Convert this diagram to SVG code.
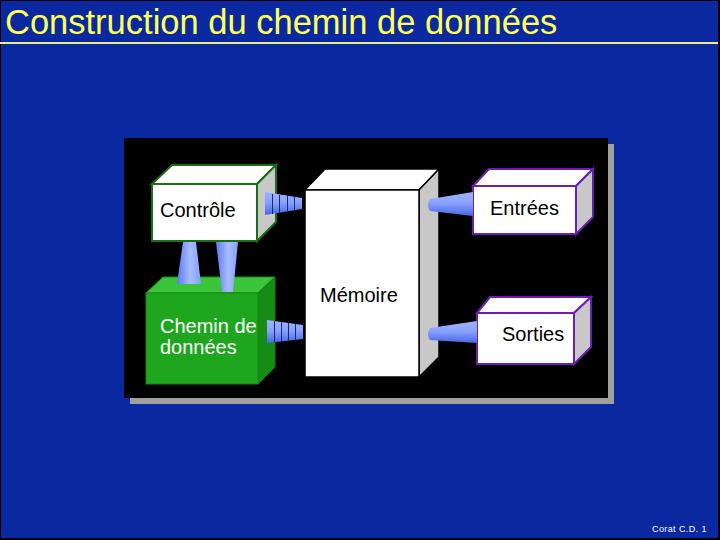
<svg xmlns="http://www.w3.org/2000/svg" width="720" height="540" viewBox="0 0 720 540">
  <defs>
    <style>
      .t { font-family: "Liberation Sans", Arial, sans-serif; }
      .lbl { font-size: 20px; fill: #000; }
      .wall { fill: #c8c8c8; }
      .face { fill: #ffffff; }
      .hc { fill: url(#gh); }
      .vc { fill: url(#gv); }
      .sep { stroke: #1a2a70; stroke-width: 1; }
    </style>
    <linearGradient id="gh" x1="0" y1="0" x2="0" y2="1">
      <stop offset="0" stop-color="#9fb2ff"/>
      <stop offset="0.45" stop-color="#8aa2ff"/>
      <stop offset="1" stop-color="#4868e6"/>
    </linearGradient>
    <linearGradient id="gv" x1="0" y1="0" x2="1" y2="0">
      <stop offset="0" stop-color="#5a7cf0"/>
      <stop offset="0.55" stop-color="#a8bcff"/>
      <stop offset="1" stop-color="#86a0fa"/>
    </linearGradient>
  </defs>

  <!-- background -->
  <rect x="0" y="0" width="720" height="540" fill="#000"/>
  <rect x="1" y="1" width="717" height="537" fill="#0a28a0"/>

  <!-- title -->
  <text class="t" x="5" y="34" font-size="34.5" fill="#ffff5a">Construction du chemin de données</text>
  <rect x="0" y="42" width="718" height="2" fill="#f0f080"/>

  <!-- panel -->
  <rect x="130" y="144" width="484" height="260" fill="#a0a0a0"/>
  <rect x="124" y="138" width="484" height="260" fill="#000"/>

  <!-- Mémoire -->
  <g id="memoire">
    <polygon class="face" points="305,190 325,169 439,169 419,190" stroke="#000" stroke-width="1.5"/>
    <polygon class="wall" points="419,190 439,169 439,357 419,377" stroke="#000" stroke-width="1.5"/>
    <rect class="face" x="305" y="190" width="114" height="187" stroke="#000" stroke-width="1.5"/>
    <text class="t lbl" x="320" y="302">Mémoire</text>
  </g>

  <!-- Contrôle -->
  <g id="controle">
    <polygon class="face" points="152,184 172,165 276,165 257,184" stroke="#1a6e1a" stroke-width="2"/>
    <polygon class="wall" points="257,184 276,165 276,222 257,241" stroke="#1a6e1a" stroke-width="2"/>
    <rect class="face" x="152" y="184" width="105" height="57" stroke="#1a6e1a" stroke-width="2"/>
    <text class="t lbl" x="160" y="217">Contrôle</text>
  </g>

  <!-- Chemin de données -->
  <g id="chemin">
    <polygon points="146,293 163,277 275,277 258,293" fill="#3cc43c" stroke="#159015" stroke-width="1"/>
    <polygon points="258,293 275,277 275,367 258,384" fill="#168c16" stroke="#138013" stroke-width="1"/>
    <rect x="146" y="293" width="112" height="91" fill="#1ea61e" stroke="#138a13" stroke-width="1"/>
    <text class="t" x="160" y="333" font-size="20" fill="#ffffff">Chemin de</text>
    <text class="t" x="160" y="354" font-size="20" fill="#ffffff">données</text>
  </g>

  <!-- Entrées -->
  <g id="entrees">
    <polygon class="face" points="473,186 489,169 593,169 576,186" stroke="#6a1fb0" stroke-width="2"/>
    <polygon class="wall" points="576,186 593,169 593,217 576,234" stroke="#6a1fb0" stroke-width="2"/>
    <rect class="face" x="473" y="186" width="103" height="48" stroke="#6a1fb0" stroke-width="2"/>
    <text class="t lbl" x="490" y="215">Entrées</text>
  </g>

  <!-- Sorties -->
  <g id="sorties">
    <polygon class="face" points="477,313 490,297 591,297 574,313" stroke="#6a1fb0" stroke-width="2"/>
    <polygon class="wall" points="574,313 591,297 591,347 574,364" stroke="#6a1fb0" stroke-width="2"/>
    <rect class="face" x="477" y="313" width="97" height="51" stroke="#6a1fb0" stroke-width="2"/>
    <text class="t lbl" x="502" y="341">Sorties</text>
  </g>

  <!-- connectors -->
  <g id="connectors">
    <!-- Contrôle -> Mémoire (accordion) -->
    <polygon class="hc" points="265,192 302,198 302,209 265,215"/>
    <line class="sep" x1="272.5" y1="194" x2="272.5" y2="214"/>
    <line class="sep" x1="279.5" y1="195" x2="279.5" y2="213"/>
    <line class="sep" x1="287.5" y1="196" x2="287.5" y2="212"/>
    <line class="sep" x1="294.5" y1="197" x2="294.5" y2="211"/>
    <!-- Chemin -> Mémoire (accordion) -->
    <polygon class="hc" points="267,320 303,325 303,339 267,343"/>
    <line class="sep" x1="274.5" y1="321" x2="274.5" y2="342"/>
    <line class="sep" x1="281.5" y1="322" x2="281.5" y2="341"/>
    <line class="sep" x1="288.5" y1="323" x2="288.5" y2="341"/>
    <line class="sep" x1="295.5" y1="324" x2="295.5" y2="340"/>
    <!-- Entrées -> Mémoire -->
    <path class="hc" d="M473,192 L473,216 L430,211 Q426,205 430,199 Z"/>
    <!-- Sorties -> Mémoire -->
    <path class="hc" d="M477,321 L477,343 L430,340 Q426,334 430,328 Z"/>
    <!-- Contrôle <-> Chemin -->
    <polygon class="vc" points="183,242 196,242 201,284 177,284"/>
    <polygon class="vc" points="216,242 238,242 233,292 222,292"/>
  </g>

  <!-- footer -->
  <text class="t" x="652" y="532" font-size="9" letter-spacing="0.4" fill="#ffffff">Corat C.D. 1</text>
</svg>
